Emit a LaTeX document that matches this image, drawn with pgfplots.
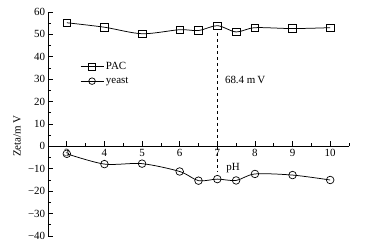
\documentclass[border=0pt]{standalone}
\usepackage{fontspec}
\setmainfont{Liberation Serif}
\usepackage{pgfplots}
\pgfplotsset{compat=1.18}
\begin{document}
\fontsize{11}{13}\selectfont
\begin{tikzpicture}
\useasboundingbox (-48bp,-13bp) rectangle (322bp,236bp);
\begin{axis}[
  scale only axis,
  width=301bp, height=224bp,
  xmin=2.5, xmax=10.5, ymin=-40, ymax=60,
  axis x line=middle, axis y line=left,
  axis line style={-, line width=0.75pt},
  xtick={3,4,5,6,7,8,9,10},
  minor xtick={2.5,3.5,4.5,5.5,6.5,7.5,8.5,9.5,10.5},
  ytick={-40,-30,-20,-10,0,10,20,30,40,50,60},
  yticklabels={\textminus40,\textminus30,\textminus20,\textminus10,0,10,20,30,40,50,60},
  minor ytick={-35,-25,-15,-5,5,15,25,35,45,55},
  tick align=inside,
  major tick length=5bp, minor tick length=3bp,
  tick style={line width=0.75pt, black},
  /pgf/number format/assume math mode=true,
  ticklabel style={font=\fontsize{11}{13}\selectfont},
  yticklabel style={xshift=1bp},
  xticklabel style={yshift=1bp},
  clip=false,
  legend style={draw=none, fill=none, at={(axis cs:3.35,38.5)}, anchor=north west,
    inner sep=0pt, row sep=2bp, font=\fontsize{11}{13}\selectfont},
  legend cell align=left,
  legend image code/.code={
    \draw[mark repeat=2,mark phase=2, mark size=3.3bp] plot coordinates {(0bp,0bp) (11.5bp,0bp) (23bp,0bp)};
  },
]
\addplot[black, line width=0.75pt, smooth, tension=0.5, mark=square, mark size=3.8bp,
  mark options={fill=white, solid, line width=0.7pt}]
  coordinates {(3,55.2) (4,53.2) (5,50.3) (6,52.1) (6.5,51.7) (7,53.9) (7.5,51.1) (8,53.0) (9,52.6) (10,53.0)};
\addlegendentry{PAC}
\addplot[black, line width=0.75pt, smooth, tension=0.5, mark=o, mark size=3.8bp,
  mark options={fill=white, solid, line width=0.7pt}]
  coordinates {(3,-3.3) (4,-7.9) (5,-7.7) (6,-11.2) (6.5,-15.3) (7,-14.6) (7.5,-15.2) (8,-12.3) (9,-12.8) (10,-15.0)};
\addlegendentry{yeast}
\addplot[black, line width=0.8pt, dashed, forget plot] coordinates {(7,50.5) (7,-11)};
\node[anchor=west, inner sep=0pt] at (axis cs:7.2,29.8) {68.4 m\,V};
\node[inner sep=0pt] at (axis cs:7.42,-9.6) {pH};
\node[rotate=90, inner sep=0pt] at ([xshift=-31bp]axis cs:2.5,4.5) {Zeta/m\,V};
\end{axis}
\end{tikzpicture}
\end{document}
